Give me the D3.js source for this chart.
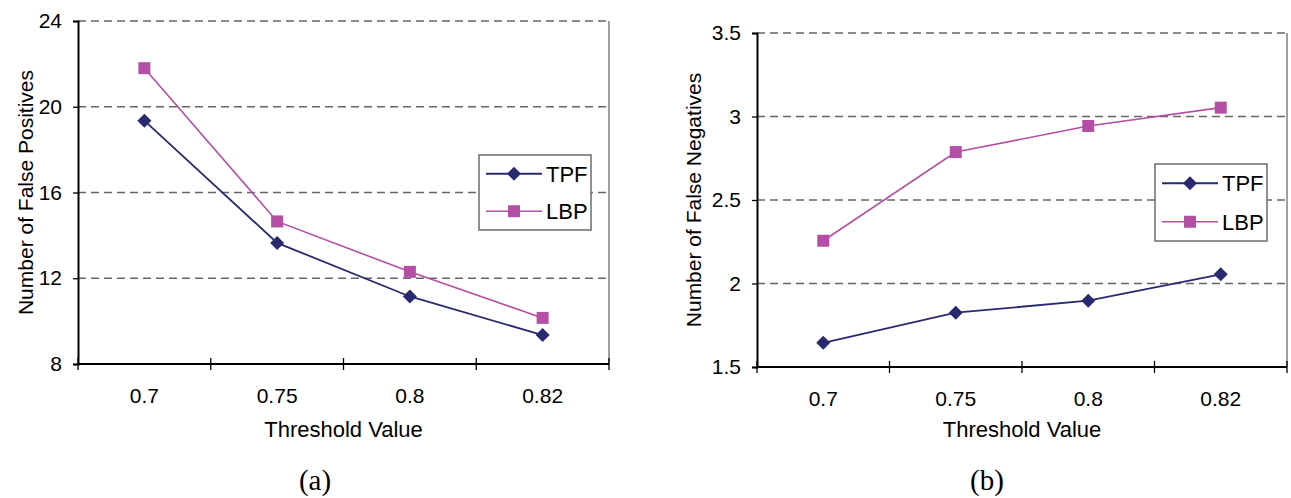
<!DOCTYPE html>
<html>
<head>
<meta charset="utf-8">
<script src="https://cdn.jsdelivr.net/npm/d3@7"></script>
<style>
	body { margin: 0; background: #ffffff; }
	svg { display: block; }
</style>
</head>
<body>
<script>
var thresholds = [ "0.7", "0.75", "0.8", "0.82" ];
var seriesNames = [ "TPF", "LBP" ];

// (a) false positives
var tpfFalsePositives = [ 19.35, 13.65, 11.15, 9.35 ];
var lbpFalsePositives = [ 21.8, 14.65, 12.3, 10.15 ];
var fpTicks = [ 8, 12, 16, 20, 24 ];

// (b) false negatives
var tpfFalseNegatives = [ 1.645, 1.825, 1.897, 2.055 ];
var lbpFalseNegatives = [ 2.256, 2.787, 2.943, 3.053 ];
var fnTicks = [ 1.5, 2, 2.5, 3, 3.5 ];

var colors = { TPF : "#29296f", LBP : "#b44fa5" };
var sans = "'Liberation Sans', Arial, sans-serif";
var serif = "'Liberation Serif', 'Times New Roman', serif";

var svg = d3.select("body").append("svg")//
.attr("width", 1291)//
.attr("height", 498);

drawPanel({
	left : 78, right : 609, top : 21, bottom : 364,
	domain : [ 8, 24 ], ticks : fpTicks,
	series : [ tpfFalsePositives, lbpFalsePositives ],
	yTitle : "Number of False Positives", yTitleX : 33,
	legend : { x : 479, y : 155, w : 112, h : 75 },
	caption : "(a)", captionX : 315
});

drawPanel({
	left : 757, right : 1287, top : 33, bottom : 367,
	domain : [ 1.5, 3.5 ], ticks : fnTicks,
	series : [ tpfFalseNegatives, lbpFalseNegatives ],
	yTitle : "Number of False Negatives", yTitleX : 701,
	legend : { x : 1155, y : 164, w : 112, h : 77 },
	caption : "(b)", captionX : 987
});

function drawPanel(p) {
	var g = svg.append("g");

	var x = d3.scaleBand().domain(thresholds).range([ p.left, p.right ]);
	var y = d3.scaleLinear().domain(p.domain).range([ p.bottom, p.top ]);

	// dashed gridlines
	g.selectAll(".grid").data(p.ticks.slice(1)).enter().append("line")//
	.attr("class", "grid")//
	.attr("x1", p.left)//
	.attr("x2", p.right)//
	.attr("y1", function(d) { return y(d); })//
	.attr("y2", function(d) { return y(d); })//
	.attr("stroke", "#666")//
	.attr("stroke-width", 1.6)//
	.attr("stroke-dasharray", "8,5");

	// right border
	g.append("line")//
	.attr("x1", p.right).attr("x2", p.right)//
	.attr("y1", p.top).attr("y2", p.bottom)//
	.attr("stroke", "#808080")//
	.attr("stroke-width", 1.5);

	// y axis
	var yAxis = d3.axisLeft(y).tickValues(p.ticks).tickSize(5).tickPadding(11)//
	.tickFormat(function(d) { return String(d); });
	var ya = g.append("g").attr("transform", "translate(" + p.left + ",0)").call(yAxis);
	ya.select(".domain").attr("stroke", "#000").attr("stroke-width", 2);
	ya.selectAll(".tick line").attr("stroke", "#000").attr("stroke-width", 1.3);
	ya.selectAll(".tick text")//
	.attr("fill", "#000")//
	.style("font-family", sans)//
	.style("font-size", "21px");

	// x axis, cross ticks at band edges
	var xa = g.append("g");
	xa.append("line")//
	.attr("x1", p.left).attr("x2", p.right)//
	.attr("y1", p.bottom).attr("y2", p.bottom)//
	.attr("stroke", "#000")//
	.attr("stroke-width", 2);
	var edges = thresholds.map(function(t) { return x(t); }).concat([ p.right ]);
	xa.selectAll(".xtick").data(edges).enter().append("line")//
	.attr("class", "xtick")//
	.attr("x1", function(d) { return d; })//
	.attr("x2", function(d) { return d; })//
	.attr("y1", p.bottom - 6)//
	.attr("y2", p.bottom + 6)//
	.attr("stroke", "#000")//
	.attr("stroke-width", 1.3);
	xa.selectAll(".xlabel").data(thresholds).enter().append("text")//
	.attr("class", "xlabel")//
	.attr("x", function(d) { return x(d) + x.bandwidth() / 2; })//
	.attr("y", p.bottom + 39)//
	.attr("text-anchor", "middle")//
	.style("font-family", sans)//
	.style("font-size", "21px")//
	.text(function(d) { return d; });

	// titles
	g.append("text")//
	.attr("x", (p.left + p.right) / 2)//
	.attr("y", 437)//
	.attr("text-anchor", "middle")//
	.style("font-family", sans)//
	.style("font-size", "22px")//
	.text("Threshold Value");

	g.append("text")//
	.attr("transform", "translate(" + p.yTitleX + "," + ((p.top + p.bottom) / 2) + ") rotate(-90)")//
	.attr("text-anchor", "middle")//
	.style("font-family", sans)//
	.style("font-size", "21px")//
	.text(p.yTitle);

	g.append("text")//
	.attr("x", p.captionX)//
	.attr("y", 490)//
	.attr("text-anchor", "middle")//
	.style("font-family", serif)//
	.style("font-size", "29px")//
	.text(p.caption);

	// lines and markers
	var line = d3.line()//
	.x(function(d, i) { return x(thresholds[i]) + x.bandwidth() / 2; })//
	.y(function(d) { return y(d); });

	p.series.forEach(function(values, s) {
		var name = seriesNames[s];
		g.append("path")//
		.attr("d", line(values))//
		.attr("fill", "none")//
		.attr("stroke", colors[name])//
		.attr("stroke-width", name == "TPF" ? 1.8 : 1.6);
		g.selectAll(".m" + name).data(values).enter().append("path")//
		.attr("class", "m" + name)//
		.attr("transform", function(d, i) {
			return "translate(" + (x(thresholds[i]) + x.bandwidth() / 2) + "," + y(d) + ")";
		})//
		.attr("d", marker(name))//
		.attr("fill", colors[name]);
	});

	// legend
	var lg = g.append("g").attr("transform", "translate(" + p.legend.x + "," + p.legend.y + ")");
	lg.append("rect")//
	.attr("width", p.legend.w)//
	.attr("height", p.legend.h)//
	.attr("fill", "#fff")//
	.attr("stroke", "#6b6b6b")//
	.attr("stroke-width", 1.5);
	var rowY = [ p.legend.h * 0.25, p.legend.h * 0.75 ];
	seriesNames.forEach(function(name, i) {
		lg.append("line")//
		.attr("x1", 7).attr("x2", 63)//
		.attr("y1", rowY[i]).attr("y2", rowY[i])//
		.attr("stroke", colors[name])//
		.attr("stroke-width", name == "TPF" ? 1.8 : 1.6);
		lg.append("path")//
		.attr("transform", "translate(35," + rowY[i] + ")")//
		.attr("d", marker(name))//
		.attr("fill", colors[name]);
		lg.append("text")//
		.attr("x", 67)//
		.attr("y", rowY[i] + 8)//
		.style("font-family", sans)//
		.style("font-size", "22px")//
		.text(name);
	});
}

function marker(name) {
	if (name == "TPF") {
		return "M0,-7L7,0L0,7L-7,0Z";
	}
	return "M-6,-6H6V6H-6Z";
}
</script>
</body>
</html>
